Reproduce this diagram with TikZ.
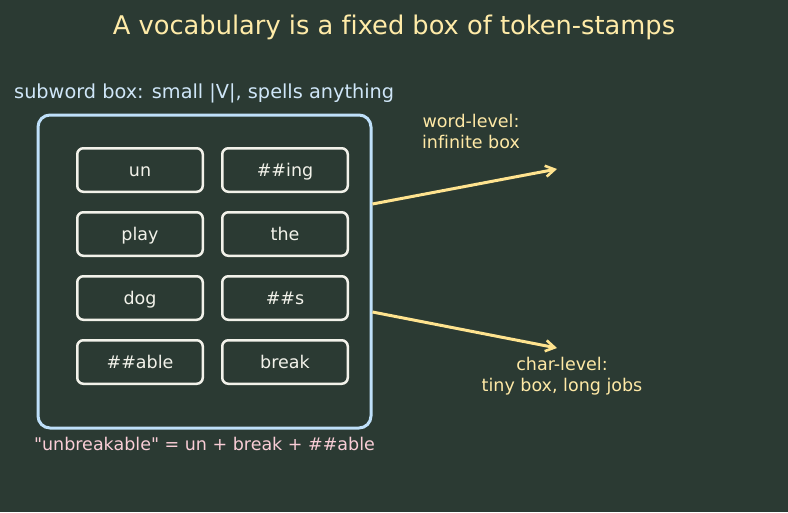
\documentclass[tikz,border=0pt]{standalone}
\usepackage{fontspec}
\setmainfont[Ligatures={TeXOff,NoCommon}]{DejaVu Sans}
\usetikzlibrary{arrows.meta, positioning}
\definecolor{bgGreen}{HTML}{2B3A33}
\definecolor{titleYellow}{HTML}{FFEBA8}
\definecolor{noteYellow}{HTML}{FFE9A6}
\definecolor{arrowYellow}{HTML}{FFE38F}
\definecolor{boxBlue}{HTML}{BFE0FA}
\definecolor{labelBlue}{HTML}{CFE6F8}
\definecolor{stampWhite}{HTML}{F2F2EA}
\definecolor{notePink}{HTML}{F9CDD6}
\tikzstyle{stampBox} = [draw=stampWhite, line width=2.5pt, rounded corners=6pt,
   minimum width=125.5pt, minimum height=43.5pt, inner sep=0pt, outer sep=0pt,
   text height=14pt, text depth=1pt,
   text=stampWhite, font=\fontsize{17.5}{20}\selectfont]
\tikzstyle{noteText} = [text=noteYellow, align=center, inner sep=0pt,
   font=\fontsize{17.5}{21}\selectfont]
\tikzstyle{levelArrow} = [draw=arrowYellow, line width=3pt,
   -{Straight Barb[length=9pt, width=11pt, line width=2.6pt]}]

\begin{document}
\begin{tikzpicture}[x=1pt, y=-1pt]
  \fill[bgGreen] (0,0) rectangle (788,512);
  \useasboundingbox (0,0) rectangle (788,512);

  \node[text=titleYellow, font=\fontsize{25.7}{30}\selectfont] (title) at (394,27) {A vocabulary is a fixed box of token-stamps};
  \node[text=labelBlue, anchor=west, inner sep=0pt, font=\fontsize{19.3}{23}\selectfont] (boxlabel) at (14,93.5) {subword box: small |V|, spells anything};

  % the fixed box
  \node[draw=boxBlue, line width=3pt, rounded corners=12pt,
        minimum width=333pt, minimum height=313pt] (vocab) at (204.5,271.5) {};

  % stamps, two columns
  \node[stampBox] (un) at (140,170) {un};
  \node[stampBox, right=19.5pt of un] (ing) {\#\#ing};
  \node[stampBox, below=20.5pt of un] (play) {play};
  \node[stampBox, right=19.5pt of play] (the) {the};
  \node[stampBox, below=20.5pt of play] (dog) {dog};
  \node[stampBox, right=19.5pt of dog] (s) {\#\#s};
  \node[stampBox, below=20.5pt of dog] (able) {\#\#able};
  \node[stampBox, right=19.5pt of able] (break) {break};

  \node[text=notePink, inner sep=0pt, font=\fontsize{17.5}{20}\selectfont] (spelling) at (204.5,444) {"unbreakable" = un + break + \#\#able};

  % the two other boxes
  \coordinate (wordEnd) at (557,169);
  \coordinate (charEnd) at (557,348);
  \draw[levelArrow] ([yshift=67.5pt]vocab.east) -- (wordEnd);
  \draw[levelArrow] ([yshift=-40.5pt]vocab.east) -- (charEnd);
  \node[noteText] (wordNote) at (471,131) {word-level:\\infinite box};
  \node[noteText] (charNote) at (562,376) {char-level:\\tiny box, long jobs};
\end{tikzpicture}
\end{document}
